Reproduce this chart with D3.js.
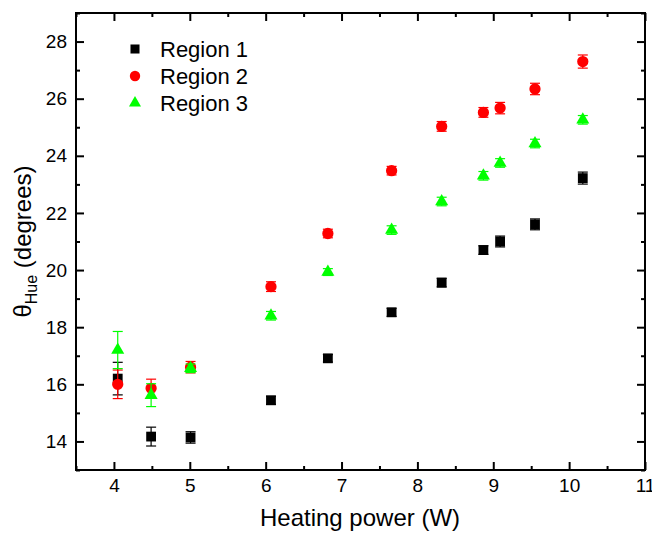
<!DOCTYPE html>
<html>
<head>
<meta charset="utf-8">
<script src="https://cdn.jsdelivr.net/npm/d3@7"></script>
<style>
  body { margin: 0; background: #fff; }
  svg { display: block; font-family: "Liberation Sans", Arial, sans-serif; }
</style>
</head>
<body>
<div id="chart"></div>
<script>
// Heating power (W) for every measurement
const power = [4.05, 4.49, 5.01, 6.07, 6.82, 7.66, 8.32, 8.87, 9.09, 9.55, 10.18];

// theta_Hue (degrees) per region, with error bars
const region1 = [16.2, 14.17, 14.14, 15.44, 16.91, 18.52, 19.56, 20.7, 21.0, 21.6, 23.22];
const region1Err = [0.57, 0.33, 0.2, 0.14, 0.13, 0.14, 0.15, 0.15, 0.19, 0.19, 0.21];
const region2 = [16.0, 15.86, 16.6, 19.42, 21.28, 23.48, 25.03, 25.52, 25.67, 26.34, 27.3];
const region2Err = [0.5, 0.32, 0.2, 0.17, 0.15, 0.15, 0.17, 0.17, 0.2, 0.2, 0.23];
const region3 = [17.2, 15.62, 16.56, 18.4, 19.93, 21.4, 22.4, 23.3, 23.75, 24.43, 25.26];
const region3Err = [0.65, 0.4, 0.15, 0.15, 0.12, 0.15, 0.15, 0.15, 0.15, 0.15, 0.15];

const seriesNames = ["Region 1", "Region 2", "Region 3"];

const xMajor = [4, 5, 6, 7, 8, 9, 10, 11];
const xMinor = [3.5, 4.5, 5.5, 6.5, 7.5, 8.5, 9.5, 10.5];
const yMajor = [14, 16, 18, 20, 22, 24, 26, 28];
const yMinor = [13, 15, 17, 19, 21, 23, 25, 27, 29];

const width = 652, height = 533;
const plot = { left: 76, right: 645, top: 13, bottom: 470 };

const svg = d3.select("#chart").append("svg")
  .attr("width", width)
  .attr("height", height);

const x = d3.scaleLinear().domain([3.5, 11]).range([plot.left, plot.right]);
const y = d3.scaleLinear().domain([13, 29]).range([plot.bottom, plot.top]);

// ticks on all four sides, pointing in
function tickAxis(axisFn, scale, values, size, transform, labels) {
  const ax = axisFn(scale).tickValues(values).tickSize(-size).tickSizeOuter(0).tickPadding(9);
  if (!labels) ax.tickFormat("");
  const g = svg.append("g").attr("transform", transform).call(ax);
  g.select(".domain").remove();
  g.selectAll("line").attr("stroke", "#000").attr("stroke-width", 2);
  g.selectAll("text").style("font-size", "19px").attr("fill", "#000");
  return g;
}

tickAxis(d3.axisBottom, x, xMajor, 8, `translate(0,${plot.bottom})`, true);
tickAxis(d3.axisBottom, x, xMinor, 4, `translate(0,${plot.bottom})`, false);
tickAxis(d3.axisTop, x, xMajor, 8, `translate(0,${plot.top})`, false);
tickAxis(d3.axisTop, x, xMinor, 4, `translate(0,${plot.top})`, false);
tickAxis(d3.axisLeft, y, yMajor, 8, `translate(${plot.left},0)`, true);
tickAxis(d3.axisLeft, y, yMinor, 4, `translate(${plot.left},0)`, false);
tickAxis(d3.axisRight, y, yMajor, 8, `translate(${plot.right},0)`, false);
tickAxis(d3.axisRight, y, yMinor, 4, `translate(${plot.right},0)`, false);

// frame
svg.append("rect")
  .attr("x", plot.left).attr("y", plot.top)
  .attr("width", plot.right - plot.left)
  .attr("height", plot.bottom - plot.top)
  .attr("fill", "none")
  .attr("stroke", "#000")
  .attr("stroke-width", 2);

const series = [
  { name: seriesNames[0], values: region1, err: region1Err, color: "#000000", symbol: d3.symbolSquare, size: 96 },
  { name: seriesNames[1], values: region2, err: region2Err, color: "#ff0000", symbol: d3.symbolCircle, size: 100 },
  { name: seriesNames[2], values: region3, err: region3Err, color: "#00ff00", symbol: d3.symbolTriangle, size: 74 }
];

const capW = 5;
series.forEach(s => {
  const pts = power.map((p, i) => ({ p: p, v: s.values[i], e: s.err[i] }));
  const g = svg.append("g");

  const bars = g.selectAll(".err").data(pts).enter().append("g")
    .attr("stroke", s.color)
    .attr("stroke-width", 1.2);
  bars.append("line")
    .attr("x1", d => x(d.p)).attr("x2", d => x(d.p))
    .attr("y1", d => y(d.v + d.e)).attr("y2", d => y(d.v - d.e));
  bars.append("line")
    .attr("x1", d => x(d.p) - capW).attr("x2", d => x(d.p) + capW)
    .attr("y1", d => y(d.v + d.e)).attr("y2", d => y(d.v + d.e));
  bars.append("line")
    .attr("x1", d => x(d.p) - capW).attr("x2", d => x(d.p) + capW)
    .attr("y1", d => y(d.v - d.e)).attr("y2", d => y(d.v - d.e));

  g.selectAll(".pt").data(pts).enter().append("path")
    .attr("d", d3.symbol().type(s.symbol).size(s.size))
    .attr("transform", d => `translate(${x(d.p)},${y(d.v)})`)
    .attr("fill", s.color);
});

// legend
const legend = svg.append("g");
series.forEach((s, i) => {
  const cy = 49 + i * 27;
  legend.append("path")
    .attr("d", d3.symbol().type(s.symbol).size(s.size * 0.85))
    .attr("transform", `translate(135,${cy})`)
    .attr("fill", s.color);
  legend.append("text")
    .attr("x", 160)
    .attr("y", cy + 7.5)
    .style("font-size", "22px")
    .text(s.name);
});

// axis titles
svg.append("text")
  .attr("x", 360)
  .attr("y", 526)
  .attr("text-anchor", "middle")
  .style("font-size", "24px")
  .text("Heating power (W)");

const yTitle = svg.append("text")
  .attr("transform", `translate(31,${(plot.top + plot.bottom) / 2}) rotate(-90)`)
  .attr("text-anchor", "middle")
  .style("font-size", "24px");
yTitle.append("tspan").text("θ");
yTitle.append("tspan").attr("dy", 6).style("font-size", "16px").text("Hue");
yTitle.append("tspan").attr("dy", -6).text(" (degrees)");
</script>
</body>
</html>
